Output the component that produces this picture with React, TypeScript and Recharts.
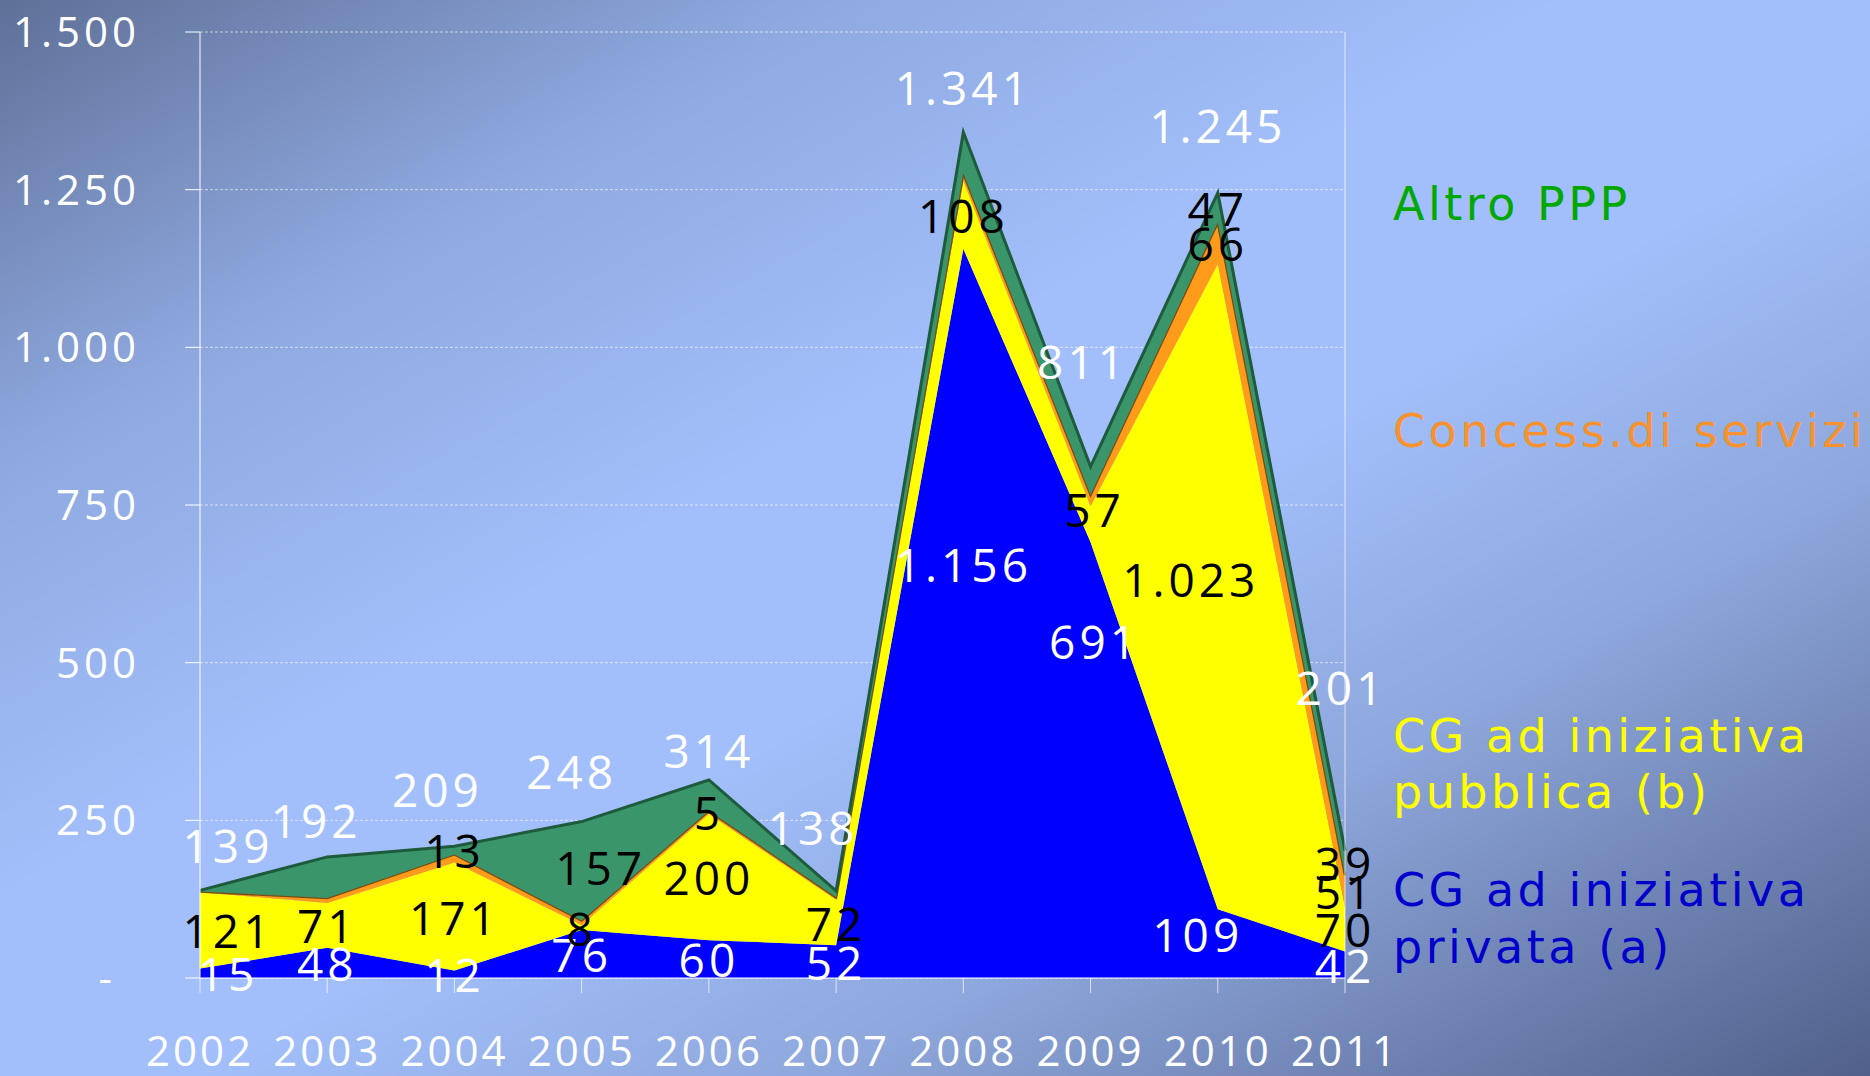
import React from 'react';
import {
  ComposedChart,
  Area,
  Line,
  XAxis,
  YAxis,
  CartesianGrid,
  LabelList,
  ReferenceLine,
} from 'recharts';

// values (milioni di euro)
const years = ['2002', '2003', '2004', '2005', '2006', '2007', '2008', '2009', '2010', '2011'];
const privata = [15, 48, 12, 76, 60, 52, 1156, 691, 109, 42];
const pubblica = [121, 71, 171, 8, 200, 72, 108, 57, 1023, 70];
const concess = [1, 8, 13, 7, 5, 4, 12, 18, 66, 51];
const altro = [2, 65, 13, 157, 49, 10, 65, 45, 47, 39];
const totals = [139, 192, 209, 248, 314, 138, 1341, 811, 1245, 201];

// only some of the thin bands carry a label on the slide
const concessLabelled = ['2006', '2010', '2011'];
const altroLabelled = ['2004', '2005', '2010', '2011'];

const yTicks = [0, 250, 500, 750, 1000, 1250, 1500];

const NUM_FONT = '"Open Sans", "DejaVu Sans", sans-serif';
const LEGEND_FONT = '"DejaVu Sans", Verdana, sans-serif';

const COLORS = {
  privata: '#0000ff',
  pubblica: '#ffff00',
  concess: '#ff9a1a',
  concessEdge: '#7a4b12',
  altro: '#3b956b',
  altroEdge: '#1e5a3c',
  grid: 'rgba(255,255,255,0.6)',
};

// hand-moved labels on the original slide (pixel nudges, dx/dy)
const LABEL_NUDGE: Record<string, [number, number]> = {
  'totale-2003': [-11, 8],
  'totale-2004': [-17, -12],
  'totale-2005': [-10, -6],
  'totale-2006': [0, 15],
  'totale-2007': [-23, -19],
  'totale-2009': [-8, -61],
  'totale-2010': [0, -23],
  'totale-2011': [-4, -119],
  'privata-2008': [0, -49],
  'privata-2009': [4, -119],
  'privata-2010': [-20, -10],
  'pubblica-2009': [4, -15],
  'pubblica-2010': [-27, -8],
  'altro-2005': [19, -4],
};

const fmt = (v: number) => String(v).replace(/\B(?=(\d{3})+(?!\d))/g, '.');

const rows = years.map((year, i) => {
  const b = privata[i];
  const p = pubblica[i];
  const c = concess[i];
  const a = altro[i];
  return {
    year,
    privata: b,
    pubblica: p,
    concess: c,
    altro: a,
    totale: totals[i],
    privataMid: b / 2,
    pubblicaMid: b + p / 2,
    concessMid: b + p + c / 2,
    altroMid: b + p + c + a / 2,
    concessShown: concessLabelled.includes(year) ? c : null,
    altroShown: altroLabelled.includes(year) ? a : null,
  };
});

const makeLabel = (series: string, color: string, lift = 0) => (props: any) => {
  const { x, y, value, index } = props;
  if (value == null || x == null || y == null) return null;
  const [nx, ny] = LABEL_NUDGE[`${series}-${years[index]}`] || [0, 0];
  // first column labels sit inside the plot, as on the slide
  const edge = index === 0 ? 28 : 0;
  return (
    <text
      x={x + nx + edge}
      y={y - lift + ny}
      textAnchor="middle"
      dominantBaseline="central"
      fill={color}
      fontSize={46}
      fontFamily={NUM_FONT}
      letterSpacing={4}
    >
      {fmt(Number(value))}
    </text>
  );
};

const YTick = (props: any) => {
  const { x, y, payload } = props;
  const v = Number(payload.value);
  return (
    <text
      x={v === 0 ? x - 24 : x}
      y={y}
      dy="0.355em"
      textAnchor="end"
      fill="#ffffff"
      fontSize={42}
      fontFamily={NUM_FONT}
      letterSpacing={4}
    >
      {v === 0 ? '-' : fmt(v)}
    </text>
  );
};

const XTick = (props: any) => {
  const { x, y, payload } = props;
  return (
    <text
      x={x}
      y={y}
      dy="0.71em"
      textAnchor="middle"
      fill="#ffffff"
      fontSize={42}
      fontFamily={NUM_FONT}
      letterSpacing={3}
    >
      {payload.value}
    </text>
  );
};

const hiddenLine = {
  stroke: 'none',
  dot: false,
  activeDot: false,
  isAnimationActive: false,
  legendType: 'none' as const,
};

const LegendOverlay = () => (
  <svg
    width={1870}
    height={1076}
    style={{ position: 'absolute', left: 0, top: 0, pointerEvents: 'none' }}
  >
    <g fontFamily={LEGEND_FONT} fontSize={46} letterSpacing={3.5}>
      <text x={1393} y={220} fill="#00a800">Altro PPP</text>
      <text x={1393} y={447} fill="#f7922e">Concess.di servizi</text>
      <text x={1393} y={752} fill="#ffff00">CG ad iniziativa</text>
      <text x={1393} y={808} fill="#ffff00">pubblica (b)</text>
      <text x={1393} y={906} fill="#0000cc">CG ad iniziativa</text>
      <text x={1393} y={963} fill="#0000cc">privata (a)</text>
    </g>
  </svg>
);

export default function App() {
  return (
    <div
      style={{
        position: 'absolute',
        left: 0,
        top: 0,
        width: 1870,
        height: 1076,
        overflow: 'hidden',
        background:
          'linear-gradient(to bottom right, #5e7097 0%, #8fa9e0 22%, #a2bffb 42%, #a2bffb 55%, #8ea7dc 72%, #50608a 100%)',
      }}
    >
      <ComposedChart
        width={1870}
        height={1076}
        data={rows}
        margin={{ top: 32, right: 525, bottom: 0, left: 0 }}
      >
        <CartesianGrid vertical={false} stroke={COLORS.grid} strokeDasharray="3 2" />
        <XAxis
          dataKey="year"
          scale="point"
          padding={{ left: 0, right: 0 }}
          interval={0}
          height={98}
          stroke="#ffffff"
          tickLine={{ stroke: 'rgba(255,255,255,0.7)' }}
          tickSize={15}
          tickMargin={43}
          tick={<XTick />}
        />
        <YAxis
          domain={[0, 1500]}
          ticks={yTicks}
          interval={0}
          width={200}
          stroke="#ffffff"
          tickSize={15}
          tickMargin={45}
          tick={<YTick />}
        />
        <ReferenceLine x="2011" stroke="rgba(255,255,255,0.7)" />

        <Area
          type="linear"
          dataKey="privata"
          stackId="ppp"
          stroke="none"
          fill={COLORS.privata}
          fillOpacity={1}
          dot={false}
          activeDot={false}
          isAnimationActive={false}
        />
        <Area
          type="linear"
          dataKey="pubblica"
          stackId="ppp"
          stroke="none"
          fill={COLORS.pubblica}
          fillOpacity={1}
          dot={false}
          activeDot={false}
          isAnimationActive={false}
        />
        <Area
          type="linear"
          dataKey="concess"
          stackId="ppp"
          stroke={COLORS.concessEdge}
          strokeWidth={2.5}
          fill={COLORS.concess}
          fillOpacity={1}
          dot={false}
          activeDot={false}
          isAnimationActive={false}
        />
        <Area
          type="linear"
          dataKey="altro"
          stackId="ppp"
          stroke={COLORS.altroEdge}
          strokeWidth={3}
          fill={COLORS.altro}
          fillOpacity={1}
          dot={false}
          activeDot={false}
          isAnimationActive={false}
        />

        {/* invisible lines that carry the value labels at the middle of each band */}
        <Line dataKey="privataMid" {...hiddenLine}>
          <LabelList dataKey="privata" content={makeLabel('privata', '#ffffff')} />
        </Line>
        <Line dataKey="pubblicaMid" {...hiddenLine}>
          <LabelList dataKey="pubblica" content={makeLabel('pubblica', '#000000')} />
        </Line>
        <Line dataKey="concessMid" {...hiddenLine}>
          <LabelList dataKey="concessShown" content={makeLabel('concess', '#000000')} />
        </Line>
        <Line dataKey="altroMid" {...hiddenLine}>
          <LabelList dataKey="altroShown" content={makeLabel('altro', '#000000')} />
        </Line>
        <Line dataKey="totale" {...hiddenLine}>
          <LabelList dataKey="totale" content={makeLabel('totale', '#ffffff', 45)} />
        </Line>
      </ComposedChart>
      <LegendOverlay />
    </div>
  );
}
